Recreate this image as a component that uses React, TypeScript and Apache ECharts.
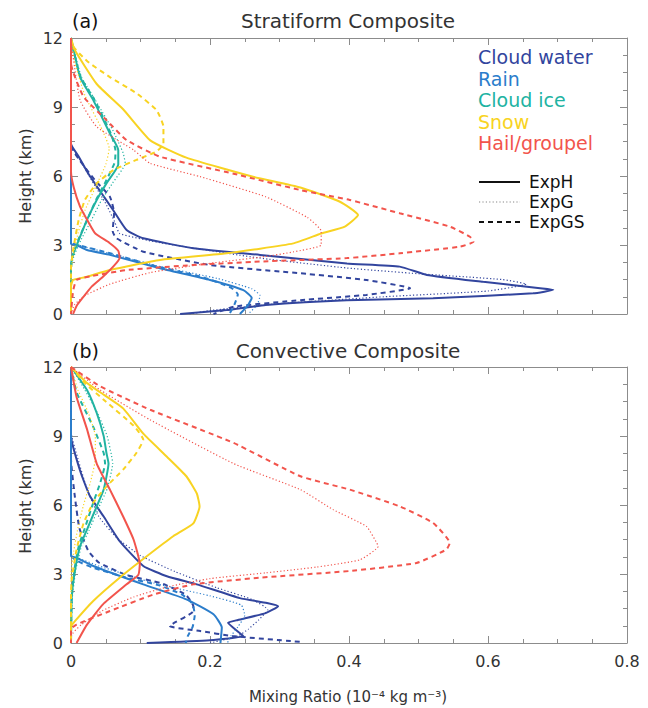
import { useEffect, useRef } from "react"
import * as echarts from "echarts"

// profiles are [mixing ratio (1e-4 kg m-3), height (km)], top to bottom
const speciesNames = ["Cloud water", "Rain", "Cloud ice", "Snow", "Hail/groupel"]
const experimentNames = ["ExpH", "ExpG", "ExpGS"]
const xTicks = [0, 0.2, 0.4, 0.6, 0.8]
const yTicks = [0, 3, 6, 9, 12]

// (a) stratiform
const stratCloudWaterH = [[0, 12], [0, 7.4], [0.011, 6.85], [0.025, 6.1], [0.044, 5.25], [0.061, 4.5], [0.08, 3.65], [0.104, 3.29], [0.176, 2.86], [0.272, 2.57], [0.397, 2.2], [0.473, 2.06], [0.512, 1.7], [0.593, 1.4], [0.675, 1.12], [0.694, 1.05], [0.665, 0.9], [0.521, 0.68], [0.397, 0.6], [0.28, 0.39], [0.224, 0.17], [0.157, 0]]
const stratCloudWaterG = [[0, 12], [0, 7.4], [0.013, 6.7], [0.03, 5.8], [0.05, 4.8], [0.063, 4.0], [0.07, 3.5], [0.128, 3.1], [0.272, 2.43], [0.397, 2.0], [0.5, 1.75], [0.62, 1.5], [0.655, 1.3], [0.6, 1.0], [0.45, 0.75], [0.3, 0.45], [0.2, 0.15], [0.17, 0]]
const stratCloudWaterGS = [[0, 12], [0, 7.3], [0.012, 6.7], [0.035, 5.8], [0.056, 5.1], [0.062, 4.4], [0.06, 3.6], [0.065, 3.3], [0.104, 2.71], [0.2, 2.13], [0.33, 1.77], [0.425, 1.48], [0.488, 1.12], [0.425, 0.83], [0.33, 0.6], [0.234, 0.32], [0.205, 0]]
const stratRainH = [[0, 12], [0, 3.05], [0.008, 3.0], [0.023, 2.78], [0.056, 2.57], [0.128, 1.99], [0.2, 1.48], [0.248, 1.04], [0.26, 0.7], [0.255, 0.4], [0.243, 0]]
const stratRainG = [[0, 12], [0, 3.1], [0.01, 3.0], [0.06, 2.6], [0.13, 2.05], [0.21, 1.55], [0.26, 1.1], [0.272, 0.8], [0.268, 0.4], [0.255, 0]]
const stratRainGS = [[0, 12], [0, 3.1], [0.01, 3.0], [0.055, 2.65], [0.12, 2.1], [0.19, 1.6], [0.23, 1.15], [0.24, 0.85], [0.235, 0.4], [0.228, 0]]
const stratCloudIceH = [[0, 12], [0.003, 11.6], [0.013, 10.3], [0.032, 9.3], [0.056, 7.85], [0.068, 7.13], [0.068, 6.5], [0.051, 5.68], [0.037, 4.96], [0.023, 4.09], [0.011, 3.2], [0.002, 2.5], [0, 2], [0, 0]]
const stratCloudIceG = [[0, 12], [0.004, 11.5], [0.015, 10.3], [0.035, 9.3], [0.06, 8.0], [0.075, 7.0], [0.078, 6.55], [0.06, 5.7], [0.043, 4.9], [0.028, 4.0], [0.014, 3.2], [0.004, 2.5], [0, 2], [0, 0]]
const stratCloudIceGS = [[0, 12], [0.003, 11.5], [0.014, 10.3], [0.034, 9.3], [0.058, 7.8], [0.064, 7.1], [0.063, 6.6], [0.049, 5.7], [0.035, 4.9], [0.022, 4.0], [0.01, 3.2], [0.002, 2.5], [0, 2], [0, 0]]
const stratSnowH = [[0, 12], [0.005, 11.5], [0.037, 10], [0.075, 8.9], [0.114, 7.55], [0.166, 6.8], [0.262, 5.97], [0.33, 5.5], [0.387, 4.88], [0.413, 4.3], [0.394, 3.8], [0.36, 3.5], [0.32, 3.07], [0.224, 2.64], [0.128, 2.35], [0.056, 1.91], [0.02, 1.6], [0.003, 1.48], [0, 1.2], [0, 0]]
const stratSnowG = [[0, 12], [0.005, 11], [0.02, 9.5], [0.045, 8], [0.055, 7.2], [0.05, 6.5], [0.035, 5.5], [0.02, 4.5], [0.01, 3.5], [0.003, 2.5], [0, 1.8], [0, 0]]
const stratSnowGS = [[0, 12], [0, 11.8], [0.023, 11], [0.056, 10.3], [0.094, 9.6], [0.123, 8.87], [0.133, 8.14], [0.133, 7.42], [0.123, 7.06], [0.094, 6.7], [0.061, 6.26], [0.037, 5.68], [0.02, 4.96], [0.011, 4.09], [0.003, 2.78], [0, 2], [0, 0]]
const stratHailH = [[0, 12], [0, 6.2], [0.004, 5.5], [0.013, 4.67], [0.025, 4.0], [0.035, 3.5], [0.055, 3.1], [0.068, 2.75], [0.07, 2.45], [0.062, 2.1], [0.046, 1.62], [0.03, 1.2], [0.018, 0.75], [0.008, 0.35], [0.003, 0]]
const stratHailG = [[0, 12], [0.003, 11.2], [0.013, 9.3], [0.037, 8.14], [0.09, 7.13], [0.114, 6.55], [0.186, 5.97], [0.28, 5.1], [0.34, 4.2], [0.36, 3.6], [0.36, 3.0], [0.32, 2.7], [0.28, 2.5], [0.186, 2.15], [0.114, 1.8], [0.056, 1.3], [0.02, 0.8], [0.005, 0.4], [0, 0]]
const stratHailGS = [[0, 12], [0, 10.9], [0.018, 9.45], [0.051, 8.43], [0.08, 7.56], [0.128, 6.84], [0.234, 6.1], [0.33, 5.39], [0.401, 4.96], [0.473, 4.38], [0.545, 3.8], [0.574, 3.36], [0.579, 3.14], [0.56, 2.93], [0.473, 2.64], [0.397, 2.43], [0.272, 2.28], [0.176, 2.13], [0.08, 1.91], [0.03, 1.65], [0.008, 1.48], [0.003, 1], [0, 0]]

// (b) convective
const convCloudWaterH = [[0, 12], [0, 9], [0.013, 7.5], [0.027, 6.4], [0.047, 5.5], [0.07, 4.43], [0.104, 3.35], [0.138, 2.9], [0.181, 2.55], [0.243, 1.95], [0.282, 1.74], [0.298, 1.6], [0.28, 1.3], [0.24, 1.0], [0.226, 0.88], [0.24, 0.5], [0.248, 0.3], [0.2, 0.12], [0.109, 0]]
const convCloudWaterG = [[0, 12], [0, 9.2], [0.01, 8], [0.022, 6.8], [0.04, 5.5], [0.065, 4.6], [0.1, 3.8], [0.15, 3.1], [0.21, 2.4], [0.26, 1.9], [0.283, 1.45], [0.27, 1.0], [0.255, 0.6], [0.24, 0.3], [0.2, 0]]
const convCloudWaterGS = [[0, 12], [0, 8], [0.005, 6.5], [0.012, 5], [0.025, 4.0], [0.04, 3.5], [0.08, 2.95], [0.13, 2.6], [0.165, 2.1], [0.176, 1.6], [0.176, 1.39], [0.142, 0.74], [0.186, 0.52], [0.233, 0.3], [0.33, 0.05]]
const convRainH = [[0, 12], [0, 3.8], [0.008, 3.7], [0.032, 3.35], [0.104, 2.55], [0.166, 1.9], [0.205, 1.25], [0.217, 0.67], [0.215, 0]]
const convRainG = [[0, 12], [0, 3.8], [0.01, 3.7], [0.04, 3.35], [0.12, 2.6], [0.2, 2.05], [0.245, 1.65], [0.25, 1.2], [0.24, 0.7], [0.23, 0.3], [0.225, 0]]
const convRainGS = [[0, 12], [0, 3.8], [0.01, 3.55], [0.032, 3.27], [0.08, 2.84], [0.128, 2.5], [0.16, 2.1], [0.175, 1.7], [0.178, 1.2], [0.175, 0.7], [0.168, 0.3], [0.165, 0]]
const convCloudIceH = [[0, 12], [0.023, 11], [0.037, 10], [0.047, 9], [0.051, 8.26], [0.054, 7.8], [0.047, 6.67], [0.037, 5.94], [0.023, 4.93], [0.013, 4.2], [0.006, 3.2], [0.001, 2], [0, 0]]
const convCloudIceG = [[0, 12], [0.02, 11], [0.038, 10], [0.052, 9], [0.058, 8.2], [0.06, 7.8], [0.052, 6.7], [0.04, 5.9], [0.026, 4.9], [0.015, 4.2], [0.007, 3.2], [0.002, 2], [0, 0]]
const convCloudIceGS = [[0, 12], [0.008, 10.9], [0.032, 9.4], [0.047, 8.26], [0.049, 7.8], [0.042, 6.96], [0.032, 6.1], [0.02, 5.0], [0.011, 4.2], [0.005, 3.2], [0.001, 2], [0, 0]]
const convSnowH = [[0, 12], [0.023, 11.3], [0.042, 10.9], [0.075, 10.2], [0.104, 9.1], [0.138, 8.1], [0.166, 7.25], [0.181, 6.5], [0.185, 5.94], [0.176, 5.2], [0.147, 4.64], [0.109, 3.77], [0.07, 2.84], [0.032, 1.83], [0.006, 0.96], [0, 0.7], [0, 0]]
const convSnowG = [[0, 12], [0.01, 11], [0.025, 10], [0.035, 9], [0.035, 8], [0.028, 7], [0.018, 6], [0.01, 5], [0.004, 4], [0, 3], [0, 0]]
const convSnowGS = [[0, 12], [0.02, 11.3], [0.05, 10.5], [0.09, 9.45], [0.104, 8.84], [0.094, 8.26], [0.075, 7.54], [0.051, 6.8], [0.032, 6.1], [0.018, 5.2], [0.008, 4.06], [0.001, 2.75], [0, 2], [0, 0]]
const convHailH = [[0, 12], [0.008, 10.7], [0.023, 9.3], [0.037, 7.8], [0.056, 6.67], [0.075, 5.5], [0.09, 4.5], [0.099, 3.43], [0.097, 2.97], [0.08, 2.55], [0.046, 1.68], [0.023, 0.8], [0.008, 0]]
const convHailG = [[0, 12], [0.042, 11], [0.114, 9.7], [0.234, 7.8], [0.33, 6.67], [0.377, 5.8], [0.425, 5.07], [0.44, 4.35], [0.442, 4.2], [0.416, 3.62], [0.353, 3.3], [0.28, 3.05], [0.2, 2.8], [0.14, 2.45], [0.09, 2.0], [0.045, 1.4], [0.015, 0.8], [0, 0.3], [0, 0]]
const convHailGS = [[0, 12], [0.042, 11.16], [0.114, 10.14], [0.234, 8.7], [0.33, 7.25], [0.401, 6.67], [0.473, 5.94], [0.521, 5.22], [0.545, 4.35], [0.54, 4.06], [0.497, 3.48], [0.401, 3.13], [0.272, 2.84], [0.176, 2.55], [0.118, 2.1], [0.056, 1.39], [0.008, 0.8], [0, 0.6], [0, 0]]

const stratProfiles = [
    [stratCloudWaterH, stratCloudWaterG, stratCloudWaterGS],
    [stratRainH, stratRainG, stratRainGS],
    [stratCloudIceH, stratCloudIceG, stratCloudIceGS],
    [stratSnowH, stratSnowG, stratSnowGS],
    [stratHailH, stratHailG, stratHailGS],
]
const convProfiles = [
    [convCloudWaterH, convCloudWaterG, convCloudWaterGS],
    [convRainH, convRainG, convRainGS],
    [convCloudIceH, convCloudIceG, convCloudIceGS],
    [convSnowH, convSnowG, convSnowGS],
    [convHailH, convHailG, convHailGS],
]

const speciesColors = ["#32459e", "#2b7dcb", "#21b3a2", "#f8d322", "#f2544c"]
const FONT = '"DejaVu Sans", sans-serif'
const AXIS_GREY = "#8c8c8c"

const lineStyles = [
    { width: 2, type: "solid" },
    { width: 1.2, type: [1.2, 2.2] },
    { width: 2, type: [5, 4] },
]

function axisPair(gridIndex: number, isX: boolean, showLabels: boolean) {
    const common = {
        type: "value",
        gridIndex,
        min: 0,
        max: isX ? 0.8 : 12,
        interval: isX ? 0.2 : 3,
        splitLine: { show: false },
        axisLine: { show: true, onZero: false, lineStyle: { color: AXIS_GREY, width: 1 } },
        axisTick: { show: true, inside: true, length: 7, lineStyle: { color: AXIS_GREY } },
        minorTick: { show: true, splitNumber: 4, length: 4, lineStyle: { color: AXIS_GREY } },
    }
    return [
        {
            ...common,
            position: isX ? "bottom" : "left",
            axisLabel: {
                show: showLabels,
                color: "#333",
                fontSize: 16,
                fontFamily: FONT,
                margin: isX ? 10 : 8,
                customValues: isX ? xTicks : yTicks,
            },
        },
        { ...common, position: isX ? "top" : "right", axisLabel: { show: false } },
    ]
}

export default function App() {
    const chartRef = useRef<HTMLDivElement>(null)

    useEffect(() => {
        if (!chartRef.current) return
        document.body.style.margin = "0"
        const chart = echarts.init(chartRef.current, undefined, { renderer: "svg" })

        const series: any[] = []
        ;[stratProfiles, convProfiles].forEach((panel, p) => {
            panel.forEach((profiles, s) => {
                profiles.forEach((data, e) => {
                    series.push({
                        name: `${speciesNames[s]} ${experimentNames[e]}`,
                        type: "line",
                        xAxisIndex: p * 2,
                        yAxisIndex: p * 2,
                        data,
                        showSymbol: false,
                        smooth: 0.15,
                        lineStyle: { color: speciesColors[s], ...lineStyles[e] },
                        silent: true,
                    })
                })
            })
        })

        const legendTexts = speciesNames.map((name, i) => ({
            type: "text",
            x: 478,
            y: 57 + i * 21.6,
            style: { text: name, fill: speciesColors[i], fontSize: 19, fontFamily: FONT, verticalAlign: "middle" },
        }))
        const legendLines = experimentNames.flatMap((name, i) => [
            {
                type: "line",
                shape: { x1: 479, y1: 182 + i * 20, x2: 520, y2: 182 + i * 20 },
                style: {
                    stroke: i === 1 ? "#888" : "#111",
                    lineWidth: lineStyles[i].width,
                    lineDash: i === 0 ? null : lineStyles[i].type,
                },
            },
            {
                type: "text",
                x: 529,
                y: 182 + i * 20,
                style: { text: name, fill: "#111", fontSize: 17, fontFamily: FONT, verticalAlign: "middle" },
            },
        ])
        const panelTexts = [
            { label: "(a)", title: "Stratiform Composite", y: 21, mid: 176 },
            { label: "(b)", title: "Convective Composite", y: 351, mid: 506 },
        ].flatMap((t) => [
            { type: "text", x: 72, y: t.y, style: { text: t.label, fill: "#111", fontSize: 19, fontFamily: FONT, verticalAlign: "middle" } },
            { type: "text", x: 348, y: t.y, style: { text: t.title, fill: "#333", fontSize: 20, fontFamily: FONT, align: "center", verticalAlign: "middle" } },
            { type: "text", x: 25, y: t.mid, rotation: Math.PI / 2, style: { text: "Height (km)", fill: "#333", fontSize: 16, fontFamily: FONT, align: "center", verticalAlign: "middle" } },
        ])

        chart.setOption({
            animation: false,
            grid: [
                { left: 71, top: 38, width: 556, height: 276 },
                { left: 71, top: 367, width: 556, height: 276 },
            ],
            xAxis: [...axisPair(0, true, false), ...axisPair(1, true, true)],
            yAxis: [...axisPair(0, false, true), ...axisPair(1, false, true)],
            series,
            graphic: [
                ...panelTexts,
                ...legendTexts,
                ...legendLines,
                {
                    type: "text",
                    x: 348,
                    y: 697,
                    style: { text: "Mixing Ratio (10⁻⁴ kg m⁻³)", fill: "#333", fontSize: 15, fontFamily: FONT, align: "center", verticalAlign: "middle" },
                },
            ],
        })

        return () => {
            chart.dispose()
        }
    }, [])

    return <div ref={chartRef} style={{ width: 648, height: 708 }} />
}
